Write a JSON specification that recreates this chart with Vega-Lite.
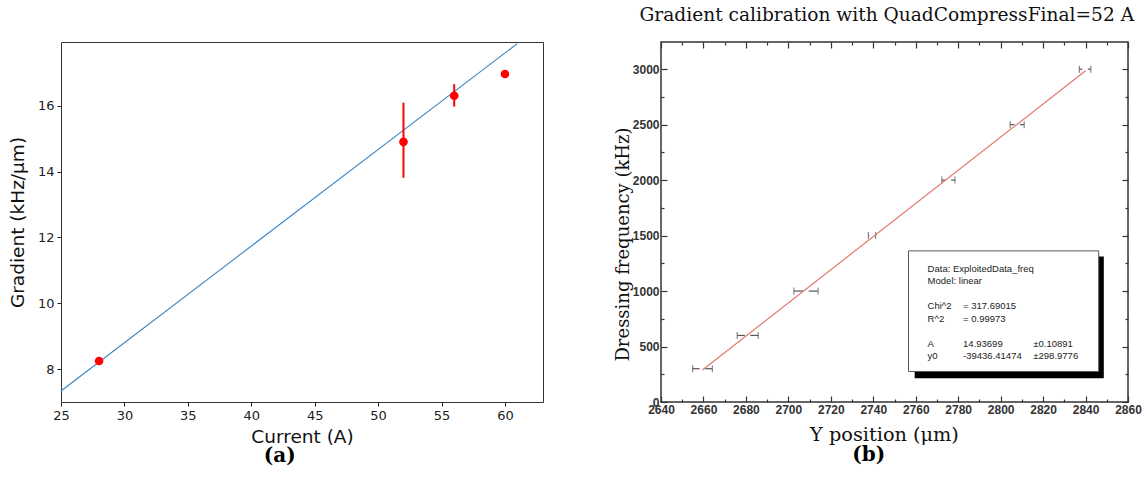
{
  "$schema": "https://vega.github.io/schema/vega-lite/v6.json",
  "background": "white",
  "padding": {"left": 7, "top": 6, "right": 5, "bottom": 5},
  "spacing": 69,
  "title": {"text": "Gradient calibration with QuadCompressFinal=52 A", "anchor": "end", "frame": "bounds", "font": "DejaVu Serif", "fontSize": 18.6, "fontWeight": "normal", "color": "#111", "offset": 16, "dx": -8},
  "config": {"view": {"stroke": null}, "title": {"font": "DejaVu Serif"}},
  "datasets": {
    "grad": [
      {"current": 28, "gradient": 8.25, "lo": null, "hi": null},
      {"current": 52, "gradient": 14.9, "lo": 13.81, "hi": 16.09},
      {"current": 56, "gradient": 16.3, "lo": 15.97, "hi": 16.65},
      {"current": 60, "gradient": 16.96, "lo": null, "hi": null}
    ],
    "gradfit": [
      {"current": 25, "gradient": 7.34},
      {"current": 60.97, "gradient": 17.88}
    ],
    "calib": [
      {"freq": 300, "ypos": 2659.5, "xmin": 2654.9, "xmax": 2664.2},
      {"freq": 600, "ypos": 2680.8, "xmin": 2675.9, "xmax": 2685.8},
      {"freq": 1000, "ypos": 2708.3, "xmin": 2702.6, "xmax": 2714.0},
      {"freq": 1500, "ypos": 2739.4, "xmin": 2737.7, "xmax": 2741.1},
      {"freq": 2000, "ypos": 2775.4, "xmin": 2772.3, "xmax": 2778.5},
      {"freq": 2500, "ypos": 2807.8, "xmin": 2804.5, "xmax": 2811.1},
      {"freq": 3000, "ypos": 2839.8, "xmin": 2837.1, "xmax": 2842.5}
    ],
    "calibfit": [
      {"ypos": 2659.5, "freq": 288},
      {"ypos": 2840, "freq": 2985}
    ]
  },
  "hconcat": [
    {
      "width": 482,
      "height": 360,
      "title": {"text": "(a)", "orient": "bottom", "anchor": "middle", "frame": "bounds", "font": "DejaVu Serif", "fontSize": 20, "fontWeight": "bold", "color": "#000", "offset": 0, "dx": 4},
      "view": {"stroke": "#333", "strokeWidth": 1},
      "layer": [
        {
          "data": {"name": "gradfit"},
          "mark": {"type": "line", "color": "#3a86c4", "strokeWidth": 1.1},
          "encoding": {
            "x": {"field": "current", "type": "quantitative", "scale": {"domain": [25, 63], "nice": false, "zero": false},
              "axis": {"values": [25, 30, 35, 40, 45, 50, 55, 60], "title": "Current (A)", "grid": false, "domain": false,
                "labelFont": "DejaVu Sans", "labelFontSize": 13, "labelColor": "#222", "labelPadding": 3, "labelFlush": false,
                "tickColor": "#222", "tickSize": 4, "titleFont": "DejaVu Sans", "titleFontSize": 18.5, "titleFontWeight": "normal", "titleColor": "#111", "titlePadding": 5}},
            "y": {"field": "gradient", "type": "quantitative", "scale": {"domain": [7.005, 17.93], "nice": false, "zero": false},
              "axis": {"values": [8, 10, 12, 14, 16], "title": "Gradient (kHz/μm)", "grid": false, "domain": false,
                "labelFont": "DejaVu Sans", "labelFontSize": 13, "labelColor": "#222", "labelPadding": 3,
                "tickColor": "#222", "tickSize": 4, "titleFont": "DejaVu Sans", "titleFontSize": 18.5, "titleFontWeight": "normal", "titleColor": "#111", "titlePadding": 10}}
          }
        },
        {
          "data": {"name": "grad"},
          "transform": [{"filter": "datum.lo != null"}],
          "mark": {"type": "rule", "color": "#ff0000", "strokeWidth": 2},
          "encoding": {
            "x": {"field": "current", "type": "quantitative"},
            "y": {"field": "lo", "type": "quantitative"},
            "y2": {"field": "hi"}
          }
        },
        {
          "data": {"name": "grad"},
          "mark": {"type": "point", "shape": "circle", "filled": true, "color": "#ff0000", "opacity": 1, "size": 75},
          "encoding": {
            "x": {"field": "current", "type": "quantitative"},
            "y": {"field": "gradient", "type": "quantitative"}
          }
        }
      ]
    },
    {
      "width": 467,
      "height": 360,
      "title": {"text": "(b)", "orient": "bottom", "anchor": "middle", "frame": "bounds", "font": "DejaVu Serif", "fontSize": 20, "fontWeight": "bold", "color": "#000", "offset": 1, "dx": -9},
      "view": {"stroke": "#333", "strokeWidth": 1.5},
      "resolve": {"axis": {"x": "independent", "y": "independent"}},
      "layer": [
        {
          "data": {"name": "calib"},
          "mark": {"type": "rule", "color": "#555", "strokeWidth": 1.2},
          "encoding": {
            "x": {"field": "xmin", "type": "quantitative", "scale": {"domain": [2640, 2860], "nice": false, "zero": false},
              "axis": {"orient": "bottom", "values": [2640, 2650, 2660, 2670, 2680, 2690, 2700, 2710, 2720, 2730, 2740, 2750, 2760, 2770, 2780, 2790, 2800, 2810, 2820, 2830, 2840, 2850, 2860],
                "format": "d", "labelExpr": "datum.value % 20 === 0 ? datum.label : ''", "title": "Y position (μm)", "titleX": 223, "grid": false, "domain": false,
                "labelFont": "Liberation Sans", "labelFontSize": 12, "labelFontWeight": "bold", "labelColor": "#333", "labelPadding": 8, "labelFlush": false, "labelOverlap": false,
                "tickColor": "#333", "tickWidth": 1.2, "tickSize": {"condition": {"test": "datum.value % 20 === 0", "value": -6}, "value": -3},
                "titleFont": "DejaVu Serif", "titleFontSize": 19.3, "titleFontWeight": "normal", "titleColor": "#111", "titlePadding": 7}},
            "x2": {"field": "xmax"},
            "y": {"field": "freq", "type": "quantitative", "scale": {"domain": [0, 3245], "nice": false, "zero": false},
              "axis": {"orient": "left", "values": [0, 250, 500, 750, 1000, 1250, 1500, 1750, 2000, 2250, 2500, 2750, 3000],
                "format": "d", "labelExpr": "datum.value % 500 === 0 ? datum.label : ''", "title": "Dressing frequency (kHz)", "titleY": 202, "grid": false, "domain": false,
                "labelFont": "Liberation Sans", "labelFontSize": 12, "labelFontWeight": "bold", "labelColor": "#333", "labelPadding": 8, "labelOverlap": false,
                "tickColor": "#333", "tickWidth": 1.2, "tickSize": {"condition": {"test": "datum.value % 500 === 0", "value": -6}, "value": -3},
                "titleFont": "DejaVu Serif", "titleFontSize": 18, "titleFontWeight": "normal", "titleColor": "#111", "titlePadding": 0}}
          }
        },
        {
          "data": {"name": "calib"},
          "mark": {"type": "tick", "orient": "vertical", "color": "#555", "thickness": 1.2, "size": 7},
          "encoding": {
            "x": {"field": "xmin", "type": "quantitative", "axis": null},
            "y": {"field": "freq", "type": "quantitative", "axis": null}
          }
        },
        {
          "data": {"name": "calib"},
          "mark": {"type": "tick", "orient": "vertical", "color": "#555", "thickness": 1.2, "size": 7},
          "encoding": {
            "x": {"field": "xmax", "type": "quantitative", "axis": null},
            "y": {"field": "freq", "type": "quantitative", "axis": null}
          }
        },
        {
          "data": {"name": "calib"},
          "mark": {"type": "point", "shape": "square", "filled": true, "color": "white", "opacity": 1, "size": 30},
          "encoding": {
            "x": {"field": "ypos", "type": "quantitative", "axis": null},
            "y": {"field": "freq", "type": "quantitative", "axis": null}
          }
        },
        {
          "data": {"name": "calibfit"},
          "mark": {"type": "line", "color": "#e0786e", "strokeWidth": 1.2},
          "encoding": {
            "x": {"field": "ypos", "type": "quantitative", "axis": null},
            "y": {"field": "freq", "type": "quantitative", "axis": null}
          }
        },
        {
          "data": {"values": [{}]},
          "mark": {"type": "rect", "fill": "#000"},
          "encoding": {
            "x": {"datum": 2759.5, "type": "quantitative", "axis": null},
            "x2": {"datum": 2848.6},
            "y": {"datum": 1311, "type": "quantitative", "axis": null},
            "y2": {"datum": 215}
          }
        },
        {
          "data": {"values": [{}]},
          "mark": {"type": "rect", "fill": "#fff", "stroke": "#555", "strokeWidth": 1},
          "encoding": {
            "x": {"datum": 2756.6, "type": "quantitative", "axis": null},
            "x2": {"datum": 2846.2},
            "y": {"datum": 1362, "type": "quantitative", "axis": null},
            "y2": {"datum": 275}
          }
        },
        {
          "data": {"values": [{}]},
          "mark": {"type": "text", "align": "left", "baseline": "top", "font": "Liberation Sans", "fontSize": 9.5, "color": "#222", "lineHeight": 12.5,
            "text": ["Data: ExploitedData_freq", "Model: linear"]},
          "encoding": {
            "x": {"datum": 2765.6, "type": "quantitative", "axis": null},
            "y": {"datum": 1247, "type": "quantitative", "axis": null}
          }
        },
        {
          "data": {"values": [{}]},
          "mark": {"type": "text", "align": "left", "baseline": "top", "font": "Liberation Sans", "fontSize": 9.5, "color": "#222", "lineHeight": 12.5,
            "text": ["Chi^2", "R^2"]},
          "encoding": {
            "x": {"datum": 2765.6, "type": "quantitative", "axis": null},
            "y": {"datum": 910, "type": "quantitative", "axis": null}
          }
        },
        {
          "data": {"values": [{}]},
          "mark": {"type": "text", "align": "left", "baseline": "top", "font": "Liberation Sans", "fontSize": 9.5, "color": "#222", "lineHeight": 12.5,
            "text": ["=  317.69015", "=  0.99973"]},
          "encoding": {
            "x": {"datum": 2782.3, "type": "quantitative", "axis": null},
            "y": {"datum": 910, "type": "quantitative", "axis": null}
          }
        },
        {
          "data": {"values": [{}]},
          "mark": {"type": "text", "align": "left", "baseline": "top", "font": "Liberation Sans", "fontSize": 9.5, "color": "#222", "lineHeight": 12.5,
            "text": ["A", "y0"]},
          "encoding": {
            "x": {"datum": 2765.6, "type": "quantitative", "axis": null},
            "y": {"datum": 572, "type": "quantitative", "axis": null}
          }
        },
        {
          "data": {"values": [{}]},
          "mark": {"type": "text", "align": "left", "baseline": "top", "font": "Liberation Sans", "fontSize": 9.5, "color": "#222", "lineHeight": 12.5,
            "text": ["14.93699", "-39436.41474"]},
          "encoding": {
            "x": {"datum": 2782.3, "type": "quantitative", "axis": null},
            "y": {"datum": 572, "type": "quantitative", "axis": null}
          }
        },
        {
          "data": {"values": [{}]},
          "mark": {"type": "text", "align": "left", "baseline": "top", "font": "Liberation Sans", "fontSize": 9.5, "color": "#222", "lineHeight": 12.5,
            "text": ["±0.10891", "±298.9776"]},
          "encoding": {
            "x": {"datum": 2815.4, "type": "quantitative", "axis": null},
            "y": {"datum": 572, "type": "quantitative", "axis": null}
          }
        },
        {
          "data": {"name": "calib"},
          "mark": {"type": "point", "opacity": 0},
          "encoding": {
            "x": {"field": "ypos", "type": "quantitative",
              "axis": {"orient": "top", "values": [2640, 2650, 2660, 2670, 2680, 2690, 2700, 2710, 2720, 2730, 2740, 2750, 2760, 2770, 2780, 2790, 2800, 2810, 2820, 2830, 2840, 2850, 2860],
                "labels": false, "title": null, "grid": false, "domain": false,
                "tickColor": "#333", "tickWidth": 1.2, "tickSize": {"condition": {"test": "datum.value % 20 === 0", "value": -6}, "value": -3}}},
            "y": {"field": "freq", "type": "quantitative",
              "axis": {"orient": "right", "values": [0, 250, 500, 750, 1000, 1250, 1500, 1750, 2000, 2250, 2500, 2750, 3000],
                "labels": false, "title": null, "grid": false, "domain": false,
                "tickColor": "#333", "tickWidth": 1.2, "tickSize": {"condition": {"test": "datum.value % 500 === 0", "value": -6}, "value": -3}}}
          }
        }
      ]
    }
  ]
}
